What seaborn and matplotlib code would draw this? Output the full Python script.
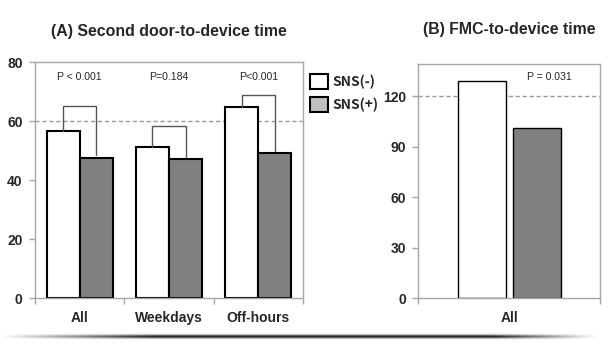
import numpy as np
import pandas as pd
import matplotlib.pyplot as plt
from matplotlib.patches import Patch
import seaborn as sns

# values
groups = ['All', 'Weekdays', 'Off-hours']
sns_neg = [56.5, 51.2, 64.6]
sns_pos = [47.6, 47.0, 49.0]
p_labels_a = ['P < 0.001', 'P=0.184', 'P<0.001']
bracket_top = [65.0, 58.2, 68.8]

fmc_groups = ['SNS(-)', 'SNS(+)']
fmc_times = [128.9, 101.4]
p_label_b = 'P = 0.031'

ref_a = 60
ref_b = 120

sns.set_theme(style='white')
plt.rcParams['font.family'] = ['Liberation Sans', 'DejaVu Sans']

FRAME = '#a6a6a6'
palette = {'SNS(-)': 'white', 'SNS(+)': '#808080'}

df_a = pd.DataFrame({
    'group': groups * 2,
    'time': sns_neg + sns_pos,
    'sns': ['SNS(-)'] * 3 + ['SNS(+)'] * 3,
})
df_b = pd.DataFrame({'group': ['All', 'All'], 'time': fmc_times, 'sns': fmc_groups})

fig = plt.figure(figsize=(6.1, 3.56), dpi=100)
ax_a = fig.add_axes([0.0574, 0.1629, 0.4393, 0.6629])
ax_b = fig.add_axes([0.6857, 0.1620, 0.2979, 0.6574])


def style_axes(ax, xmin, xmax):
    for s in ax.spines.values():
        s.set_color(FRAME)
        s.set_linewidth(1.0)
    ax.set_xlim(xmin, xmax)
    ax.set_xlabel('')
    ax.set_ylabel('')
    ax.set_xticks(np.arange(xmin, xmax + 0.01, 1.0), minor=True)
    ax.tick_params(axis='x', which='major', length=0, pad=9, labelsize=10)
    ax.tick_params(axis='x', which='minor', length=4, color=FRAME, width=1, bottom=True)
    ax.tick_params(axis='y', length=4, color=FRAME, width=1, left=True, pad=5, labelsize=10)
    for lab in ax.get_xticklabels() + ax.get_yticklabels():
        lab.set_fontweight('bold')


# (A) second door-to-device time
sns.barplot(data=df_a, x='group', y='time', hue='sns', palette=palette,
            width=0.74, edgecolor='black', linewidth=1.5, legend=False, ax=ax_a)
ax_a.set_ylim(0, 80)
ax_a.set_yticks([0, 20, 40, 60, 80])
ax_a.axhline(ref_a, color='#999999', lw=1, ls=(0, (3, 2)), zorder=0)
style_axes(ax_a, -0.5, 2.5)

off = 0.74 / 4
for i in range(len(groups)):
    xl, xr = i - off, i + off
    ax_a.plot([xl, xl, xr, xr], [sns_neg[i], bracket_top[i], bracket_top[i], sns_pos[i] + 0.8],
              color='#555555', lw=1.0, zorder=3)
    ax_a.text(i, 75, p_labels_a[i], ha='center', va='center', fontsize=7.6)

ax_a.set_title('(A) Second door-to-device time', fontsize=11.4, fontweight='bold', pad=19)

# (B) FMC-to-device time
sns.barplot(data=df_b, x='group', y='time', hue='sns', palette=palette,
            width=0.605, gap=0.13, edgecolor='black', linewidth=1.0, legend=False, ax=ax_b)
ax_b.set_ylim(0, 139)
ax_b.set_yticks([0, 30, 60, 90, 120])
ax_b.axhline(ref_b, color='#999999', lw=1, ls=(0, (3, 2)), zorder=0)
style_axes(ax_b, -0.5, 0.5)
ax_b.text(0.22, 131.5, p_label_b, ha='center', va='center', fontsize=7.6)
ax_b.set_title('(B) FMC-to-device time', fontsize=11.4, fontweight='bold', pad=21.5)

# legend between panels
handles = [Patch(facecolor='white', edgecolor='black', linewidth=1.5),
           Patch(facecolor='#c0c0c0', edgecolor='black', linewidth=1.5)]
fig.legend(handles, fmc_groups, loc='upper left', bbox_to_anchor=(0.496, 0.812),
           frameon=False, borderpad=0, handlelength=1.3, handleheight=1.25,
           handletextpad=0.35, labelspacing=0.6,
           prop={'family': ['Noto Sans CJK KR', 'DejaVu Sans'], 'size': 10, 'weight': 'bold'})

# faint shadow line under the picture
shadow_ax = fig.add_axes([0.0, 0.02, 1.0, 0.07])
shadow_ax.axis('off')
xs = np.linspace(0, 1, 610)
ys = np.linspace(-1, 1, 25)
fade = np.clip(xs / 0.25, 0, 1) * np.clip((0.98 - xs) / 0.17, 0, 1)
band = np.exp(-(ys[:, None] / 0.15) ** 2) * fade[None, :]
rgba = np.zeros((len(ys), len(xs), 4))
rgba[..., 3] = band * 0.85
shadow_ax.imshow(rgba, aspect='auto', extent=[0, 1, 0, 1])

fig.savefig('out.png', dpi=100)
